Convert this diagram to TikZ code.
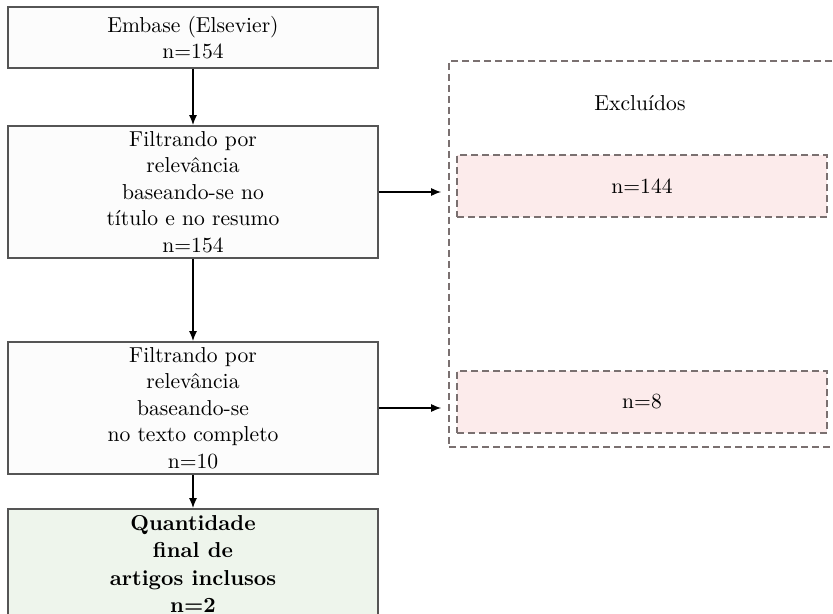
\documentclass[tikz,border=0pt]{standalone}
\usetikzlibrary{arrows.meta}
\definecolor{boxline}{HTML}{555555}
\definecolor{dashline}{HTML}{7A7070}
\definecolor{greenfill}{HTML}{EEF5EC}
\definecolor{pinkfill}{HTML}{FCEBEB}
\definecolor{boxfill}{HTML}{FCFCFC}
\tikzset{
  flowbox/.style={draw=boxline, line width=0.9pt, fill=boxfill, align=center,
    minimum width=185pt, inner sep=0pt, font=\fontsize{10.8}{13.3}\selectfont},
  finalbox/.style={flowbox, fill=greenfill, font=\fontsize{10.8}{13.6}\selectfont\bfseries},
  exclbox/.style={draw=dashline, line width=0.8pt, dash pattern=on 3.5pt off 2pt, inner sep=0pt},
  innerbox/.style={exclbox, fill=pinkfill, minimum width=185pt, minimum height=31pt,
    font=\fontsize{10.8}{13.3}\selectfont},
  flowarrow/.style={-{Latex[length=5pt,width=4pt]}, line width=0.7pt, black}
}
\begin{document}
\begin{tikzpicture}[x=0.5pt,y=-0.5pt]
\useasboundingbox (0,0) rectangle (833,614);
\clip (0,0) rectangle (833,614);
\fill[white] (0,0) rectangle (833,614);
\node[flowbox, minimum height=30.5pt] (b1) at (193,37.5) {Embase (Elsevier)\\n=154};
\node[flowbox, minimum height=66pt] (b2) at (193,192) {Filtrando por\\relevância\\baseando-se no\\título e no resumo\\n=154};
\node[flowbox, minimum height=66pt] (b3) at (193,408) {Filtrando por\\relevância\\baseando-se\\no texto completo\\n=10};
\node[finalbox, minimum height=55pt] (b4) at (193,564) {Quantidade\\final de\\artigos inclusos\\n=2};
\node[exclbox, minimum width=205.5pt, minimum height=193pt] (excl) at (654.5,254) {};
\node[font=\fontsize{10.8}{13.3}\selectfont] (excltitle) at (640,103) {Excluídos};
\node[innerbox] (e1) at (642,186) {n=144};
\node[innerbox] (e2) at (642,402) {n=8};
\draw[flowarrow] (b1) -- (b2);
\draw[flowarrow] (b2) -- (b3);
\draw[flowarrow] (b3) -- (b4);
\draw[flowarrow, shorten >=3.5pt] (b2.east) -- (excl.west |- b2.east);
\draw[flowarrow, shorten >=3.5pt] (b3.east) -- (excl.west |- b3.east);
\end{tikzpicture}
\end{document}
